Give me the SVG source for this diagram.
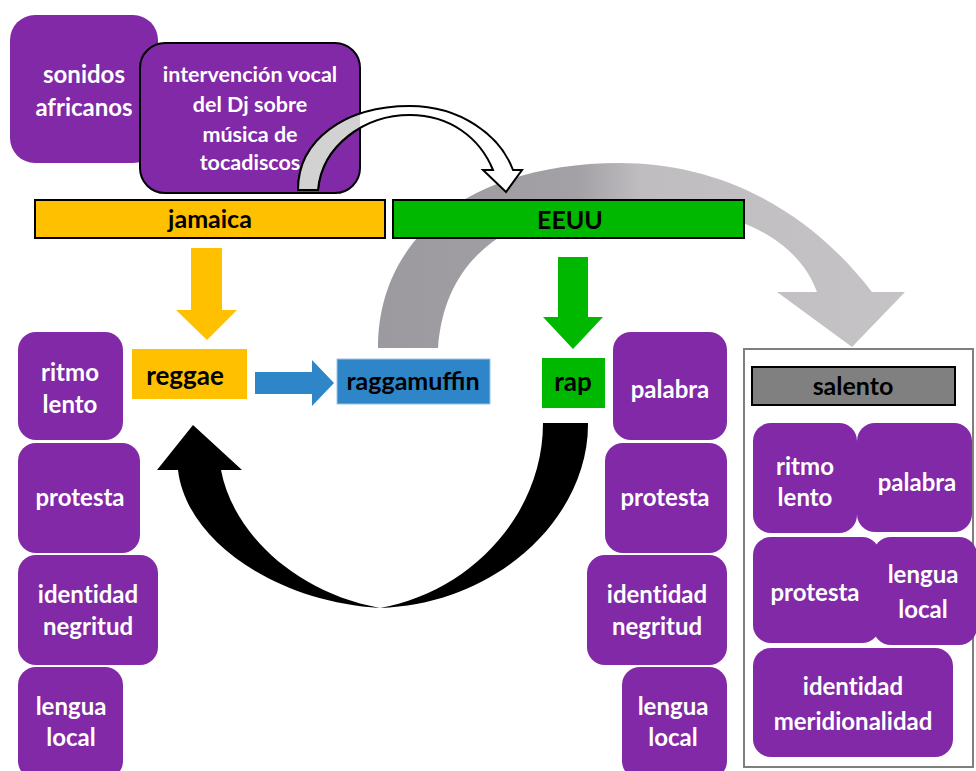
<svg xmlns="http://www.w3.org/2000/svg" width="976" height="771" viewBox="0 0 976 771">
<style>
.p{fill:#8129A6}
.pt{font-family:Lato,"Open Sans",sans-serif;font-weight:700;font-size:24px;fill:#fff;text-anchor:middle;font-variant-ligatures:none}
.lt{font-family:Lato,"Open Sans",sans-serif;font-weight:700;font-size:25px;fill:#000;text-anchor:middle}
.it{font-size:21.5px}
.bar{stroke:#000;stroke-width:2}
</style>
<defs>
<linearGradient id="gg" gradientUnits="userSpaceOnUse" x1="378" y1="0" x2="905" y2="0">
<stop offset="0" stop-color="#9C9A9E"/>
<stop offset="0.38" stop-color="#A3A1A5"/>
<stop offset="0.5" stop-color="#C0BDC1"/>
<stop offset="1" stop-color="#C6C3C7"/>
</linearGradient>
<clipPath id="boxclip"><rect x="140" y="43" width="220" height="150" rx="25"/></clipPath>
</defs>

<g id="connectors">
<path id="gray-arc" fill="url(#gg)" d="M378,348 C378,230 480,163 620,163 C715,163 805,205 872,292 L905,292 L852,347 L777,292 L817,292 C800,245 745,205 630,205 C520,205 445,250 438,348 Z"/>
</g>

<g id="sonidos"><rect class="p" x="10" y="15" width="148" height="148" rx="25"/>
<text class="pt" x="84" y="83">sonidos</text><text class="pt" x="84" y="116">africanos</text></g>

<g id="intervencion"><rect class="p" x="140" y="43" width="220" height="150" rx="25" stroke="#000" stroke-width="2"/>
<text class="pt it" x="250" y="82">intervención vocal</text>
<text class="pt it" x="250" y="112">del Dj sobre</text>
<text class="pt it" x="250" y="142">música de</text>
<text class="pt it" x="250" y="170">tocadiscos</text></g>

<g id="jamaica"><rect class="bar" x="35" y="200" width="350" height="38" fill="#FFC000"/><text class="lt" x="210" y="228">jamaica</text></g>
<g id="eeuu"><rect class="bar" x="393" y="200" width="351" height="38" fill="#00B800"/><text class="lt" x="570" y="229">EEUU</text></g>

<g id="connectors2">
<path id="hollow" fill="#fff" stroke="#000" stroke-width="2" d="M298,190 C298,140 345,106 410,106 C460,106 500,135 513,170 L522,170 L506,192 L483,170 L493,170 C480,138 450,115 410,115 C365,115 322,145 318,190 Z"/>
<path fill="#D2D2D2" stroke="#000" stroke-width="2" clip-path="url(#boxclip)" d="M298,190 C298,140 345,106 410,106 C460,106 500,135 513,170 L522,170 L506,192 L483,170 L493,170 C480,138 450,115 410,115 C365,115 322,145 318,190 Z"/>
<polygon id="yellow-arrow" fill="#FFC000" points="191,248 222,248 222,310 237,310 207,340 176,310 191,310"/>
<polygon id="green-arrow" fill="#00B800" points="558,257 588,257 588,317 603,317 573,349 543,317 558,317"/>
<polygon id="blue-arrow" fill="#2E86C9" points="255,372 312,372 312,360 334,383 312,406 312,394 255,394"/>
<path id="black-arrow" fill="#000" d="M543,423 L588,423 C589,515 500,604 380,608 C275,602 186,540 178,470 L157,470 L193,425 L242,470 L221,470 C232,530 292,592 380,608 C470,592 543,515 543,423 Z"/>
</g>

<g id="reggae"><rect x="132" y="349" width="115" height="50" fill="#FFC000"/><text class="lt" style="font-size:26px" x="185" y="385">reggae</text></g>
<g id="raggamuffin"><rect x="337" y="359" width="153" height="45" fill="#2E86C9" stroke="#9DC3E6" stroke-width="1"/><text class="lt" x="413" y="390">raggamuffin</text></g>
<g id="rap"><rect x="542" y="358" width="63" height="50" fill="#00B800"/><text class="lt" style="font-size:26px" x="573" y="391">rap</text></g>

<g id="l-ritmo"><rect class="p" x="18" y="332" width="105" height="108" rx="18"/><text class="pt" x="70" y="381">ritmo</text><text class="pt" x="70" y="413">lento</text></g>
<g id="l-protesta"><rect class="p" x="18" y="443" width="122" height="110" rx="18"/><text class="pt" x="80" y="506">protesta</text></g>
<g id="l-identidad"><rect class="p" x="18" y="555" width="140" height="110" rx="18"/><text class="pt" x="88" y="603">identidad</text><text class="pt" x="88" y="635">negritud</text></g>
<g id="l-lengua"><rect class="p" x="18" y="667" width="105" height="112" rx="18"/><text class="pt" x="71" y="715">lengua</text><text class="pt" x="71" y="746">local</text></g>

<g id="r-palabra"><rect class="p" x="613" y="332" width="114" height="108" rx="18"/><text class="pt" x="670" y="398">palabra</text></g>
<g id="r-protesta"><rect class="p" x="605" y="443" width="122" height="110" rx="18"/><text class="pt" x="665" y="506">protesta</text></g>
<g id="r-identidad"><rect class="p" x="587" y="555" width="140" height="110" rx="18"/><text class="pt" x="657" y="603">identidad</text><text class="pt" x="657" y="635">negritud</text></g>
<g id="r-lengua"><rect class="p" x="622" y="667" width="105" height="112" rx="18"/><text class="pt" x="673" y="715">lengua</text><text class="pt" x="673" y="746">local</text></g>

<g id="salento-box"><rect x="744" y="349" width="229" height="418" fill="none" stroke="#7F7F7F" stroke-width="2"/></g>
<g id="salento"><rect class="bar" x="752" y="367" width="203" height="38" fill="#808080"/><text class="lt" x="853" y="395">salento</text></g>
<g id="s-ritmo"><rect class="p" x="753" y="423" width="104" height="110" rx="18"/><text class="pt" x="805" y="475">ritmo</text><text class="pt" x="805" y="506">lento</text></g>
<g id="s-palabra"><rect class="p" x="857" y="423" width="115" height="109" rx="18"/><text class="pt" x="917" y="491">palabra</text></g>
<g id="s-protesta"><rect class="p" x="753" y="537" width="127" height="106" rx="18"/><text class="pt" x="815" y="601">protesta</text></g>
<g id="s-lengua"><rect class="p" x="873" y="537" width="104" height="108" rx="18"/><text class="pt" x="923" y="583">lengua</text><text class="pt" x="923" y="618">local</text></g>
<g id="s-identidad"><rect class="p" x="753" y="648" width="200" height="109" rx="18"/><text class="pt" x="853" y="695">identidad</text><text class="pt" x="853" y="730">meridionalidad</text></g>
</svg>
